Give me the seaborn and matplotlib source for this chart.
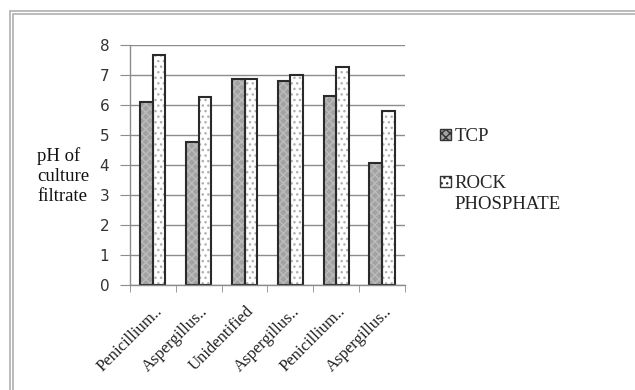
import matplotlib
matplotlib.use("Agg")
import matplotlib.pyplot as plt
import matplotlib.transforms as mtransforms
from matplotlib.patches import Rectangle
import seaborn as sns
import pandas as pd

isolates = ['Penicillium..', 'Aspergillus..', 'Unidentified', 'Aspergillus..', 'Penicillium..', 'Aspergillus..']
tcp = [6.1, 4.75, 6.85, 6.8, 6.3, 4.05]
rock = [7.65, 6.27, 6.85, 7.0, 7.27, 5.8]
series = ['TCP', 'ROCK PHOSPHATE']

rows = []
for i, name in enumerate(isolates):
    rows.append({'pos': i, 'source': series[0], 'ph': tcp[i]})
    rows.append({'pos': i, 'source': series[1], 'ph': rock[i]})
df = pd.DataFrame(rows)

sns.set_style('white')
plt.rcParams['hatch.linewidth'] = 1.0

fig = plt.figure(figsize=(6.35, 3.9), dpi=100)
ax = fig.add_axes([0.2047, 0.269, 0.433, 0.616])

sns.barplot(data=df, x='pos', y='ph', hue='source', hue_order=series,
            palette=['#a4a4a4', 'white'], width=0.55, ax=ax, legend=False,
            saturation=1)

styles = [('#a2a2a2', '#bcbcbc', 'xxxx'), ('white', '#b0b0b0', '...')]
for cont, (fc, hc, hatch) in zip(ax.containers, styles):
    for p in cont.patches:
        p.set_facecolor(fc)
        p.set_edgecolor(hc)
        p.set_hatch(hatch)
        p.set_linewidth(0)
        ax.add_patch(Rectangle(p.get_xy(), p.get_width(), p.get_height(),
                               fill=False, edgecolor='#2a2a2a', linewidth=1.5,
                               zorder=p.get_zorder() + 0.1))

ax.set_ylim(0, 8)
ax.set_xlim(-0.5, len(isolates) - 0.5)
ax.set_yticks(range(0, 9))
ax.yaxis.grid(True, color='#8c8c8c', linewidth=1)
ax.set_axisbelow(True)
for s in ['top', 'right']:
    ax.spines[s].set_visible(False)
for s in ['left', 'bottom']:
    ax.spines[s].set_color('#8c8c8c')
    ax.spines[s].set_linewidth(1)

ax.tick_params(axis='y', left=True, length=7, color='#8c8c8c', pad=8,
               labelsize=11, labelcolor='#333333')
for t in ax.get_yticklabels():
    t.set_family('DejaVu Sans')

ax.set_xticks(range(len(isolates)))
ax.set_xticks([i - 0.5 for i in range(len(isolates) + 1)], minor=True)
ax.tick_params(axis='x', which='major', length=0, pad=2)
ax.tick_params(axis='x', which='minor', bottom=True, length=5, color='#8c8c8c')
ax.set_xticklabels(isolates, rotation=45, ha='right', rotation_mode='anchor',
                   family='Liberation Serif', fontsize=12, color='#222222')
off = mtransforms.ScaledTranslation(1 / 72, -11 / 72, fig.dpi_scale_trans)
for t in ax.get_xticklabels():
    t.set_transform(t.get_transform() + off)

ax.set_xlabel('')
ax.set_ylabel('')
fig.text(37 / 635, 1 - 176 / 390, 'pH of\nculture\nfiltrate', ha='left', va='center',
         family='Liberation Serif', fontsize=13.5, linespacing=1.2, color='#111111')

# legend: second label wraps onto a line below the handle, like the original
handles = [Rectangle((0, 0), 1, 1, facecolor=fc, edgecolor='#333333', hatch=h, linewidth=1)
           for fc, _, h in styles]
first_words = [s.split(' ')[0] for s in series]
leg = fig.legend(handles, first_words, loc='upper left', bbox_to_anchor=(431 / 635, 1 - 119 / 390),
                 frameon=False, handlelength=0.55, handleheight=0.55, handletextpad=0.2,
                 labelspacing=1.6, borderpad=0, prop={'family': 'Liberation Serif', 'size': 13.5})
fig.canvas.draw()
last = leg.get_texts()[-1].get_window_extent()
fig.text(last.x0 / fig.bbox.width, (last.y0 - 4) / fig.bbox.height,
         series[1].split(' ', 1)[1], ha='left', va='top',
         family='Liberation Serif', fontsize=13.5, color='#222222')

# double border around the chart area
for x0, y0 in [(10, 11), (13, 14)]:
    fig.add_artist(Rectangle((x0 / 635, -0.1), 1.2, 1 - y0 / 390 + 0.1,
                             transform=fig.transFigure, fill=False,
                             edgecolor='#b0b0b0', linewidth=1.2))

fig.savefig('out.png', dpi=100)
